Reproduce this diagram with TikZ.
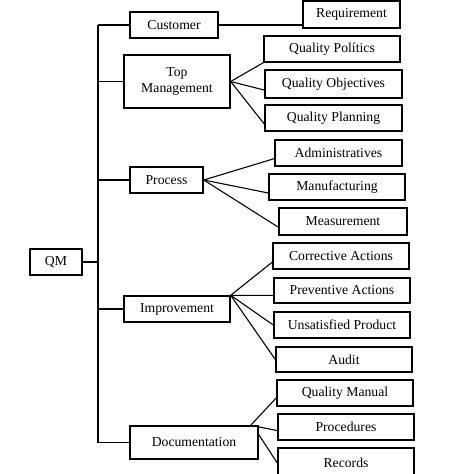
\documentclass[tikz,border=0pt]{standalone}
\usepackage{fontspec}
\setmainfont{Liberation Serif}

\begin{document}
\begin{tikzpicture}[x=1pt, y=-1pt,
  box/.style={draw, line width=1.4pt, inner sep=0pt, align=center, font=\fontsize{13.7}{16.5}\selectfont},
  link/.style={line width=1.1pt}]
\useasboundingbox (0,0) rectangle (474,474); % page
% root and first level
\node[box, minimum width=52, minimum height=26] (qm) at (56,262) {QM};
\node[box, minimum width=88, minimum height=26] (cust) at (174,25) {Customer};
\node[box, minimum width=106, minimum height=53] (top) at (177,81.5) {Top\\Management};
\node[box, minimum width=73, minimum height=26] (proc) at (166.5,180) {Process};
\node[box, minimum width=106, minimum height=26] (impr) at (177,309) {Improvement};
\node[box, minimum width=128, minimum height=33] (doc) at (194,442.5) {Documentation};
% second level
\node[box, minimum width=97, minimum height=27] (req) at (351.5,14.5) {Requirement};
\node[box, minimum width=136, minimum height=26] (qpol) at (332,49) {Quality Polítics};
\node[box, minimum width=137, minimum height=28] (qobj) at (333.5,84) {Quality Objectives};
\node[box, minimum width=137, minimum height=26] (qplan) at (333.5,118) {Quality Planning};
\node[box, minimum width=127, minimum height=26] (adm) at (338.5,153) {Administratives};
\node[box, minimum width=136, minimum height=26] (manu) at (337,187) {Manufacturing};
\node[box, minimum width=128, minimum height=27] (meas) at (343,221.5) {Measurement};
\node[box, minimum width=136, minimum height=26] (corr) at (341,256) {Corrective Actions};
\node[box, minimum width=136, minimum height=25] (prev) at (342,290.5) {Preventive Actions};
\node[box, minimum width=136, minimum height=26] (unsat) at (342,325) {Unsatisfied Product};
\node[box, minimum width=136, minimum height=25] (audit) at (344,359.5) {Audit};
\node[box, minimum width=136, minimum height=26] (qman) at (345,393) {Quality Manual};
\node[box, minimum width=136, minimum height=26] (proced) at (346,427) {Procedures};
\node[box, minimum width=136, minimum height=30] (rec) at (346,463) {Records};
% connectors
\coordinate (trunk) at (98,0);
\draw[link] (trunk |- cust.west) -- (trunk |- doc.west); % trunk
\draw[link] (qm.east) -- (trunk |- qm.east); % root branch
\foreach \n in {cust,top,proc,impr,doc} \draw[link] (trunk |- \n.west) -- (\n.west); % first level
\draw[link] (cust.east) -- (cust.east -| req.west); % customer
\foreach \n in {qpol.south west, qobj.185, qplan.185} \draw[link] (top.east) -- (\n); % top management
\foreach \n in {adm.185, manu.185, meas.185} \draw[link] (proc.east) -- (\n); % process
\foreach \n in {corr.185, prev.184, unsat.west, audit.west} \draw[link] (impr.north east) -- (\n); % improvement
\coordinate (docfork) at ([xshift=-8pt]doc.north east);
\foreach \n in {qman.184, proced.183} \draw[link] (docfork) -- (\n); % documentation
\draw[link] (doc.7) -- (rec.west); % records
\end{tikzpicture}
\end{document}
